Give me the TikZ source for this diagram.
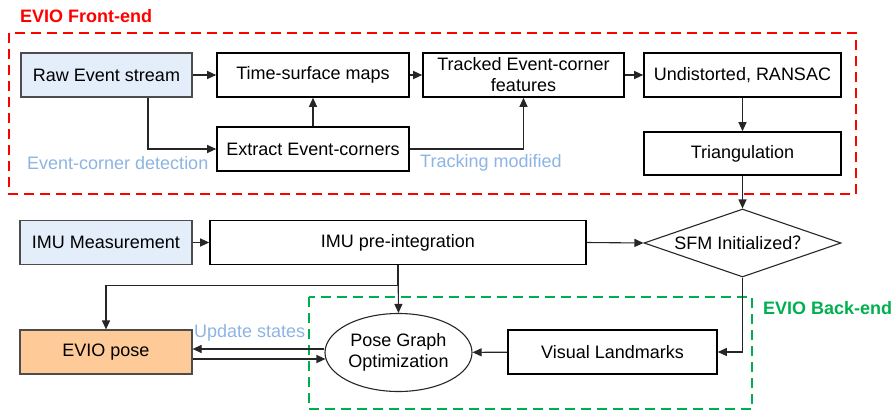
\documentclass[tikz,border=0pt]{standalone}
\usepackage{fontspec}
\setmainfont{Liberation Sans}
\newfontfamily\cjk{Noto Sans CJK SC}
\usetikzlibrary{arrows.meta,shapes.geometric}
\definecolor{inblue}{HTML}{E3EEFA}
\definecolor{poseorange}{HTML}{FDCA98}
\definecolor{notecol}{HTML}{8DB4E2}
\definecolor{frontred}{HTML}{FF0000}
\definecolor{backgreen}{HTML}{00B050}
\begin{document}
\begin{tikzpicture}[x=1pt,y=-1pt,
  every node/.style={font=\fontsize{18}{21}\selectfont, inner sep=0pt},
  box/.style={draw=black, line width=1.6pt, minimum height=44pt, align=center},
  inbox/.style={box, draw=black!70, line width=1.2pt, fill=inblue},
  posebox/.style={box, draw=black!70, line width=1.2pt, fill=poseorange},
  conn/.style={draw=black!85, line width=1.1pt, -{Triangle[length=9pt,width=8pt]}},
  note/.style={text=notecol, anchor=west},
  grouplabel/.style={font=\fontsize{18}{21}\selectfont\bfseries, anchor=west},
  groupframe/.style={line width=2.5pt, dash pattern=on 10pt off 6pt}]
\useasboundingbox (0,0) rectangle (894,414);

% group frames
\draw[groupframe, frontred] (9,33) rectangle (856,194);
\draw[groupframe, backgreen] (309,297) rectangle (752,409);
\node[grouplabel, text=frontred] (fetitle) at (20,16) {EVIO Front-end};
\node[grouplabel, text=backgreen] (betitle) at (763,308) {EVIO Back-end};

% front-end
\node[inbox, minimum width=171pt] (raw) at (106.5,75) {Raw Event stream};
\node[box, minimum width=192pt] (tsm) at (313,75) {Time-surface maps};
\node[box, minimum width=201pt] (trk) at (523.5,75) {Tracked Event-corner\\features};
\node[box, minimum width=197pt] (und) at (742.5,75) {Undistorted, RANSAC};
\node[box, minimum width=192pt] (ext) at (313,149) {Extract Event-corners};
\node[box, minimum width=197pt, minimum height=43pt] (tri) at (742.5,153.5) {Triangulation};
\node[note] (detnote) at (27,163) {Event-corner detection};
\node[note] (trknote) at (420,163) {Tracking modified};

% IMU branch and initialization
\node[inbox, minimum width=172pt] (imu) at (106,242.5) {IMU Measurement};
\node[box, minimum width=376pt] (pre) at (398,242.5) {IMU pre-integration};
\node[diamond, draw=black!85, line width=1.1pt, aspect=2.9, minimum width=197pt, minimum height=68pt] (sfm) at (742.5,243) {SFM Initialized{\cjk ？}};

% back-end
\node[posebox, minimum width=172pt] (pose) at (106,352) {EVIO pose};
\node[ellipse, draw=black!85, line width=1.1pt, minimum width=147pt, minimum height=78pt, align=center] (pgo) at (398.5,352.5) {Pose Graph\\Optimization};
\node[box, minimum width=209pt] (vis) at (612.5,352) {Visual Landmarks};
\node[note] (updnote) at (194,333) {Update states};

% connectors
\draw[conn] (raw) -- (tsm);
\draw[conn] (tsm) -- (trk);
\draw[conn] (trk) -- (und);
\draw[conn] (und) -- (tri);
\draw[conn] (tri) -- (sfm);
\draw[conn] ([xshift=41.5pt]raw.south) |- (ext.west);
\draw[conn] (ext) -- (tsm);
\draw[conn] (ext.east) -| (trk.south);
\draw[conn] (imu) -- (pre);
\draw[conn] (pre.east) -- (sfm.west);
\draw[conn] (pre.south) -- (pgo.north);
\draw[conn] (pre.south) -- ++(0,20) -| (pose.north);
\draw[conn] ([yshift=3.5pt]pgo.west) -- ([yshift=3pt]pose.east);
\draw[conn] ([yshift=-7pt]pose.east) -- ([yshift=-6.5pt,xshift=1pt]pgo.west);
\draw[conn] (sfm.south) |- (vis.east);
\draw[conn] (vis) -- (pgo);
\end{tikzpicture}
\end{document}
